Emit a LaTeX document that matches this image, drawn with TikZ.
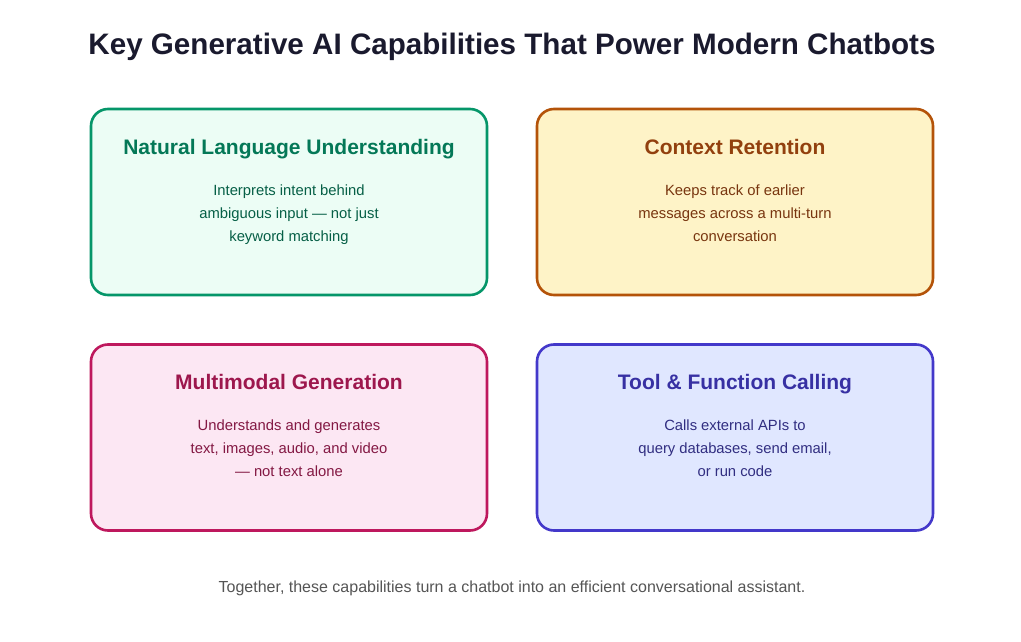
\documentclass[tikz,border=0pt]{standalone}
\usepackage{fontspec}
\setmainfont{Liberation Sans}
\definecolor{titlec}{HTML}{1A1A2E}
\definecolor{footc}{HTML}{555555}
\definecolor{gB}{HTML}{059669}\definecolor{gF}{HTML}{ECFDF5}\definecolor{gH}{HTML}{047857}\definecolor{gT}{HTML}{065F46}
\definecolor{oB}{HTML}{B45309}\definecolor{oF}{HTML}{FEF3C7}\definecolor{oH}{HTML}{92400E}\definecolor{oT}{HTML}{78350F}
\definecolor{pB}{HTML}{BE185D}\definecolor{pF}{HTML}{FCE7F3}\definecolor{pH}{HTML}{9D174D}\definecolor{pT}{HTML}{831843}
\definecolor{bB}{HTML}{4338CA}\definecolor{bF}{HTML}{E0E7FF}\definecolor{bH}{HTML}{3730A3}\definecolor{bT}{HTML}{312E81}
\tikzset{
  card/.style={draw=#1B, fill=#1F, line width=2.6pt, rounded corners=17pt, minimum width=396pt, minimum height=186pt, inner sep=0pt},
  cardhead/.style={text=#1H, font=\fontsize{21}{25}\selectfont\bfseries, inner sep=0pt, anchor=base},
  cardbody/.style={text=#1T, font=\fontsize{14.8}{23}\selectfont, align=center, inner sep=0pt, anchor=north},
}
\begin{document}
\begin{tikzpicture}[x=1pt,y=-1pt]
\useasboundingbox[fill=white] (0,0) rectangle (1021,642);
\node[text=titlec, font=\fontsize{29.6}{34}\selectfont\bfseries, inner sep=0pt, anchor=base] (title) at (512,54.5) {Key Generative AI Capabilities That Power Modern Chatbots};

\node[card=g] (c1) at (289,202) {};
\node[card=o] (c2) at (735,202) {};
\node[card=p] (c3) at (289,437.5) {};
\node[card=b] (c4) at (735,437.5) {};

\node[cardhead=g] (h1) at (289,154) {Natural Language Understanding};
\node[cardbody=g] (t1) at (289,185) {Interprets intent behind\\ambiguous input — not just\\keyword matching};

\node[cardhead=o] (h2) at (735,154) {Context Retention};
\node[cardbody=o] (t2) at (735,185) {Keeps track of earlier\\messages across a multi-turn\\conversation};

\node[cardhead=p] (h3) at (289,389) {Multimodal Generation};
\node[cardbody=p] (t3) at (289,420) {Understands and generates\\text, images, audio, and video\\— not text alone};

\node[cardhead=b] (h4) at (735,389) {Tool \& Function Calling};
\node[cardbody=b] (t4) at (735,420) {Calls external APIs to\\query databases, send email,\\or run code};

\node[text=footc, font=\fontsize{16}{19}\selectfont, inner sep=0pt] (foot) at (512,588) {Together, these capabilities turn a chatbot into an efficient conversational assistant.};
\end{tikzpicture}
\end{document}
